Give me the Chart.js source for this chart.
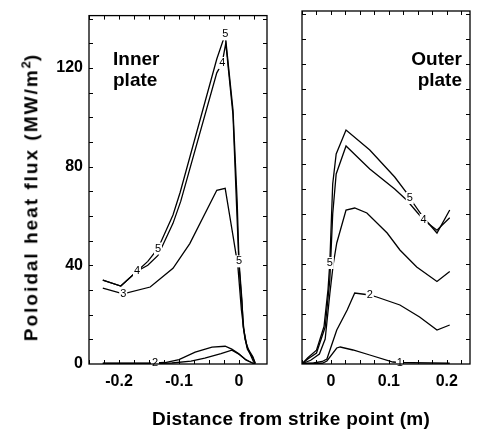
<!DOCTYPE html>
<html>
<head>
<meta charset="utf-8">
<script src="https://cdn.jsdelivr.net/npm/chart.js@4.4.1/dist/chart.umd.min.js"></script>
<style>
  html, body { margin: 0; padding: 0; background: #fff; }
  #wrap { position: relative; width: 479px; height: 429px; overflow: hidden;
          font-family: "Liberation Sans", Arial, sans-serif; color: #000; }
  #wrap canvas { position: absolute; left: 0; top: 0; }
  .ytitle { position: absolute; left: 29px; top: 197px; white-space: nowrap;
            transform: translate(-50%, -50%) rotate(-90deg);
            font-weight: bold; font-size: 19px; line-height: 20px; letter-spacing: 2px; }
  .ytitle sup { font-size: 13px; letter-spacing: 0; }
  .xtitle { position: absolute; left: 291px; top: 409px; white-space: nowrap;
            transform: translateX(-50%);
            font-weight: bold; font-size: 19px; line-height: 20px; letter-spacing: 0.3px; }
</style>
</head>
<body>
<div id="wrap">
  <canvas id="inner" width="479" height="429"></canvas>
  <canvas id="outer" width="479" height="429"></canvas>
  <div class="ytitle">Poloidal heat flux (MW/m<sup>2</sup>)</div>
  <div class="xtitle">Distance from strike point (m)</div>
</div>
<script>
'use strict';
// ---------- data ----------
// inner plate, curves 1..5
const inner1X = [-0.227, -0.14, -0.112, -0.08, -0.057, -0.03, -0.012, 0.0, 0.012, 0.022, 0.027];
const inner1Y = [0.2, 0.2, 0.4, 1.2, 2.4, 4.2, 5.6, 4, 1.5, 0.5, 0];
const inner2X = [-0.227, -0.14, -0.123, -0.1, -0.073, -0.045, -0.023, -0.012, -0.002, 0.01, 0.022, 0.027];
const inner2Y = [0.3, 0.4, 0.6, 1.8, 4.8, 6.8, 7.2, 6, 4.4, 2, 0.4, 0];
const inner3X = [-0.227, -0.193, -0.148, -0.11, -0.082, -0.037, -0.023, -0.01, -0.002, 0.004, 0.01, 0.017, 0.024, 0.027];
const inner3Y = [30.8, 28.4, 31.2, 38.8, 48.8, 70.4, 71.2, 52, 40, 22, 10, 5, 1, 0];
const inner4X = [-0.227, -0.197, -0.17, -0.152, -0.135, -0.11, -0.097, -0.037, -0.028, -0.022, -0.01, -0.004, 0.0, 0.005, 0.008, 0.014, 0.023, 0.027];
const inner4Y = [34, 31.6, 37.6, 40, 44, 57, 66, 118, 122, 130, 101, 64, 40, 24, 14, 6, 2.5, 0.3];
const inner5X = [-0.227, -0.197, -0.17, -0.152, -0.135, -0.11, -0.098, -0.037, -0.023, -0.01, -0.003, 0.0, 0.005, 0.007, 0.013, 0.023, 0.027];
const inner5Y = [34, 31.6, 37.6, 41.6, 46.8, 60.4, 69.6, 123.6, 133.6, 103, 65.6, 41.6, 25.6, 15, 7, 3, 0.4];

// outer plate, curves 1..5
const outer1X = [-0.048, -0.015, -0.007, 0.01, 0.016, 0.038, 0.067, 0.107, 0.119, 0.14, 0.205];
const outer1Y = [0.1, 0.3, 1.2, 6.4, 6.8, 5.6, 3.6, 0.8, 0.6, 0.5, 0.3];
const outer2X = [-0.048, -0.03, -0.015, -0.007, 0.01, 0.028, 0.041, 0.067, 0.079, 0.119, 0.153, 0.183, 0.205];
const outer2Y = [0.2, 0.4, 1, 2, 13.6, 21.6, 28.4, 27.6, 26.8, 23.6, 18.8, 13.6, 15.6];
const outer3X = [-0.048, -0.035, -0.02, -0.01, -0.002, 0.004, 0.01, 0.026, 0.041, 0.062, 0.097, 0.119, 0.148, 0.183, 0.205];
const outer3Y = [0.3, 1.5, 4, 10, 28, 40, 48.4, 61.6, 62.4, 60.4, 52.4, 45.6, 38.8, 33, 37];
const outer4X = [-0.048, -0.04, -0.025, -0.01, -0.002, 0.003, 0.009, 0.026, 0.067, 0.11, 0.131, 0.16, 0.183, 0.205];
const outer4Y = [0.5, 2, 4.4, 14.8, 33.6, 60, 76, 87.2, 78, 70, 65.5, 57.6, 53.5, 58.5];
const outer5X = [-0.048, -0.04, -0.025, -0.012, -0.005, -0.002, 0.003, 0.009, 0.026, 0.067, 0.11, 0.131, 0.136, 0.159, 0.183, 0.205];
const outer5Y = [0.5, 2.5, 5.5, 15, 30, 40.4, 72, 84, 93.6, 85.6, 74.8, 68.4, 66.4, 58.8, 52.4, 61.6];

// curve number tags: [curve, point index]
const innerTags = [[2, 1], [3, 1], [4, 2], [4, 8], [5, 4], [5, 8], [5, 11]];
const outerTags = [[1, 8], [2, 7], [4, 11], [5, 5], [5, 12]];

const yTicks = [0, 40, 80, 120];
const innerXTicks = [-0.2, -0.1, 0];
const outerXTicks = [0, 0.1, 0.2];

// ---------- drawing ----------
const FONT = '"Liberation Sans", Arial, sans-serif';

function pts(xs, ys) {
    return xs.map((x, i) => ({ x, y: ys[i] }));
}

function curves(list) {
    return list.map(([xs, ys], i) => ({
        label: String(i + 1),
        data: pts(xs, ys),
        borderColor: '#000',
        borderWidth: 1.3,
        pointRadius: 0,
        fill: false,
        tension: 0
    }));
}

// frame, inward ticks, curve tags and the panel caption
const panelDecor = {
    id: 'panelDecor',
    afterDatasetsDraw(chart, args, opts) {
        const { ctx, chartArea: a, scales: { x, y } } = chart;
        ctx.save();

        ctx.font = '11px ' + FONT;
        ctx.textAlign = 'center';
        ctx.textBaseline = 'middle';
        opts.tags.forEach(([c, idx]) => {
            const p = chart.getDatasetMeta(c - 1).data[idx];
            ctx.fillStyle = '#fff';
            ctx.fillRect(p.x - 4, p.y - 6, 8, 12);
            ctx.fillStyle = '#000';
            ctx.fillText(String(c), p.x, p.y);
        });

        ctx.strokeStyle = '#000';
        ctx.lineWidth = 1.3;
        ctx.strokeRect(a.left, a.top, a.right - a.left, a.bottom - a.top);

        ctx.lineWidth = 1;
        ctx.beginPath();
        for (let k = Math.ceil(x.min / 0.025); k * 0.025 <= x.max; k++) {
            const px = Math.round(x.getPixelForValue(k * 0.025)) + 0.5;
            ctx.moveTo(px, a.bottom); ctx.lineTo(px, a.bottom - 4);
            ctx.moveTo(px, a.top); ctx.lineTo(px, a.top + 4);
        }
        for (let k = 1; k * 10 <= y.max; k++) {
            const py = Math.round(y.getPixelForValue(k * 10)) + 0.5;
            ctx.moveTo(a.left, py); ctx.lineTo(a.left + 4, py);
            ctx.moveTo(a.right, py); ctx.lineTo(a.right - 4, py);
        }
        ctx.stroke();

        ctx.font = 'bold 19px ' + FONT;
        ctx.textAlign = opts.align;
        ctx.textBaseline = 'alphabetic';
        ctx.fillStyle = '#000';
        opts.caption.forEach((t, i) => ctx.fillText(t, opts.cx, opts.cy + i * 21));
        ctx.restore();
    }
};

const tickFont = { family: FONT, size: 16, weight: 'bold' };

function xScale(min, max, tickList) {
    return {
        type: 'linear', min, max,
        afterBuildTicks: s => { s.ticks = tickList.map(v => ({ value: v })); },
        afterFit: s => { s.height = 65; },
        grid: { display: false, drawTicks: false },
        border: { display: false },
        ticks: { padding: 8, color: '#000', font: tickFont, maxRotation: 0, callback: v => String(v) }
    };
}

function baseOptions(padding, xs, ys, decor) {
    return {
        responsive: false,
        animation: false,
        events: [],
        layout: { padding },
        plugins: { legend: { display: false }, tooltip: { enabled: false }, panelDecor: decor },
        scales: { x: xs, y: ys }
    };
}

new Chart(document.getElementById('inner'), {
    type: 'line',
    data: { datasets: curves([[inner1X, inner1Y], [inner2X, inner2Y], [inner3X, inner3Y], [inner4X, inner4Y], [inner5X, inner5Y]]) },
    options: baseOptions(
        { top: 11, right: 212, left: 0, bottom: 0 },
        xScale(-0.25, 0.0467, innerXTicks),
        {
            min: 0, max: 141.2,
            afterBuildTicks: s => { s.ticks = yTicks.map(v => ({ value: v })); },
            afterFit: s => { s.width = 89; },
            grid: { display: false, drawTicks: false },
            border: { display: false },
            ticks: { padding: 6, color: '#000', font: tickFont }
        },
        { tags: innerTags, caption: ['Inner', 'plate'], align: 'left', cx: 113, cy: 65 }
    ),
    plugins: [panelDecor]
});

new Chart(document.getElementById('outer'), {
    type: 'line',
    data: { datasets: curves([[outer1X, outer1Y], [outer2X, outer2Y], [outer3X, outer3Y], [outer4X, outer4Y], [outer5X, outer5Y]]) },
    options: baseOptions(
        { top: 11, right: 9, left: 302, bottom: 0 },
        xScale(-0.05, 0.24, outerXTicks),
        { display: false, min: 0, max: 141.2 },
        { tags: outerTags, caption: ['Outer', 'plate'], align: 'right', cx: 462, cy: 65 }
    ),
    plugins: [panelDecor]
});
</script>
</body>
</html>
